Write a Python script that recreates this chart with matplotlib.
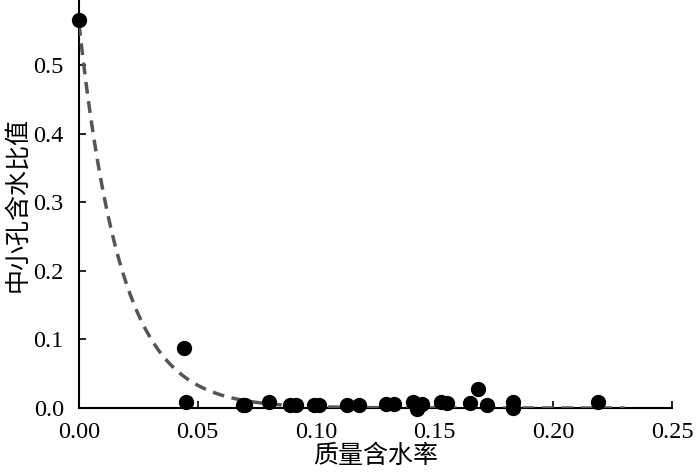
import numpy as np
import matplotlib
matplotlib.use("Agg")
import matplotlib.pyplot as plt

plt.rcParams['font.family'] = ['Liberation Serif', 'Noto Sans CJK SC']

x_vals = [0.000, 0.0443, 0.0451, 0.069, 0.070, 0.080, 0.089, 0.0915, 0.099, 0.101,
          0.113, 0.118, 0.1294, 0.133, 0.141, 0.1425, 0.1446, 0.1526, 0.155,
          0.165, 0.168, 0.172, 0.183, 0.183, 0.219]
y_vals = [0.566, 0.088, 0.009, 0.004, 0.004, 0.009, 0.004, 0.005, 0.005, 0.005,
          0.004, 0.005, 0.006, 0.006, 0.009, -0.002, 0.006, 0.009, 0.007,
          0.007, 0.027, 0.005, 0.009, 0.000, 0.009]

fit_a = 0.56
fit_k = 56.5
fit_xmax = 0.23

xlabel = "质量含水率"
ylabel = "中小孔含水比值"
xticks = [0.00, 0.05, 0.10, 0.15, 0.20, 0.25]
yticks = [0.0, 0.1, 0.2, 0.3, 0.4, 0.5]

fig = plt.figure(figsize=(7, 4.73), dpi=100)
ax = fig.add_axes([0.1129, 0.1374, 0.8471, 0.8626])

xf = np.linspace(0, fit_xmax, 300)
yf = fit_a * np.exp(-fit_k * xf)
ax.plot(xf, yf, color='#555555', lw=2.5, dashes=(3.4, 2.2), zorder=3)
ax.scatter(x_vals, y_vals, s=100, color='black', zorder=4, clip_on=False)

ax.set_xlim(0, 0.25)
ax.set_ylim(0, 0.595)
ax.set_xticks(xticks)
ax.set_xticklabels([f"{t:.2f}" for t in xticks])
ax.set_yticks(yticks)
ax.set_yticklabels([f"{t:.1f}" for t in yticks])
ax.tick_params(direction='in', length=5, width=1.2, labelsize=17.5)
ax.tick_params(axis='x', pad=10)
ax.tick_params(axis='y', pad=11)
for s in ['top', 'right']:
    ax.spines[s].set_visible(False)
for s in ['left', 'bottom']:
    ax.spines[s].set_linewidth(1.5)

ax.set_xlabel(xlabel, fontsize=18, family=['Noto Sans CJK SC'], labelpad=0)
ax.set_ylabel(ylabel, fontsize=18, family=['Noto Sans CJK SC'], labelpad=2)

fig.savefig("out.png", dpi=100)
